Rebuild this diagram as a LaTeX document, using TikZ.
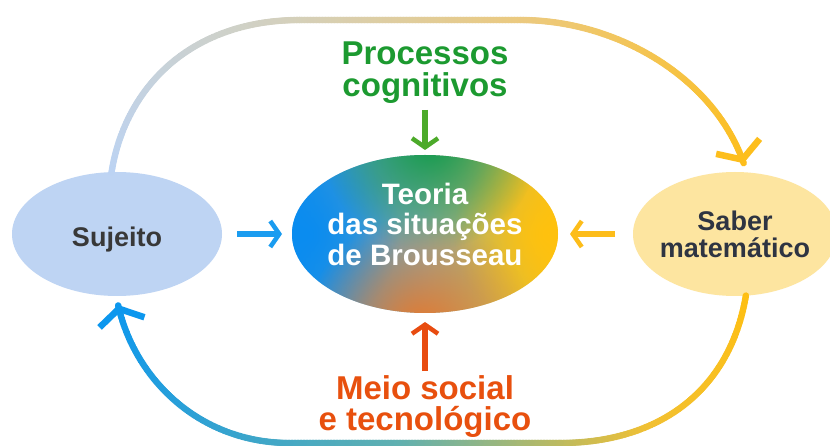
\documentclass[tikz,border=0pt]{standalone}
\usepackage{fontspec}
\setmainfont{Liberation Sans}
\usetikzlibrary{shapes.geometric,arrows.meta,fadings,calc,decorations.markings}
\definecolor{sjfill}{HTML}{BED4F3}
\definecolor{safill}{HTML}{FDE5A0}
\definecolor{sjtext}{HTML}{383838}
\definecolor{satext}{HTML}{2E3442}
\definecolor{procgreen}{HTML}{1C9A30}
\definecolor{meiored}{HTML}{E8500E}
\definecolor{arrgreen}{HTML}{4CAA2A}
\definecolor{arrred}{HTML}{E84C10}
\definecolor{arrblue}{HTML}{1A9CF0}
\definecolor{arryellow}{HTML}{FDBD1A}
\definecolor{looplblue}{HTML}{BCD3F3}
\definecolor{looptan}{HTML}{D4D0BC}
\definecolor{loopwarm}{HTML}{EDC97A}
\definecolor{loopyellow}{HTML}{FDBE1C}
\definecolor{botyellow}{HTML}{FEBF12}
\definecolor{botwarm}{HTML}{F2C032}
\definecolor{botteal}{HTML}{60B0B0}
\definecolor{botblue}{HTML}{0C97EE}
\definecolor{cblue}{HTML}{0A8CF0}
\definecolor{cyellow}{HTML}{FFC20E}
\definecolor{cgray}{HTML}{88AAA8}
\definecolor{cgreen}{HTML}{0E9A48}
\definecolor{corange}{HTML}{E8782A}

\tikzfading[name=blob, inner color=transparent!0, outer color=transparent!100]

\tikzset{
  gradtube/.style n args={6}{
    decoration={markings, mark=between positions 0 and 1 step 1.5pt with {%
      \pgfmathsetmacro\pp{\pgfkeysvalueof{/pgf/decoration/mark info/distance from start}/\pgfdecoratedpathlength*100}%
      \ifdim\pp pt<#5pt
        \pgfmathtruncatemacro\qq{100*\pp/#5}\colorlet{tubecur}{#2!\qq!#1}%
      \else\ifdim\pp pt<#6pt
        \pgfmathtruncatemacro\qq{100*(\pp-#5)/(#6-#5)}\colorlet{tubecur}{#3!\qq!#2}%
      \else
        \pgfmathtruncatemacro\qq{min(100,100*(\pp-#6)/(100-#6))}\colorlet{tubecur}{#4!\qq!#3}%
      \fi\fi
      \fill[tubecur] (0,0) circle[radius=3.3pt];}},
    decorate}
}

\begin{document}
\begin{tikzpicture}[x=1pt,y=-1pt,
  lbl/.style={align=center, inner sep=0pt, outer sep=0pt},
  oval/.style={ellipse, inner sep=0pt, outer sep=0pt},
  looptip/.style={line width=6.5pt, -{Straight Barb[length=14pt,width=46pt]}},
  smallarrow/.style={line width=6.5pt, -{Straight Barb[length=9pt,width=26pt,line width=4.5pt]}},
]
\useasboundingbox (0,0) rectangle (830,446);
\fill[white] (0,0) rectangle (830,446);

% side ovals
\node[oval, fill=sjfill, minimum width=210pt, minimum height=124pt, text=sjtext,
      font=\bfseries\fontsize{27}{27}\selectfont, text height=26pt, text depth=0pt] (sj) at (117,234) {Sujeito};
\node[oval, fill=safill, minimum width=204pt, minimum height=124pt, text=satext, align=center,
      inner xsep=-5pt, font=\bfseries\fontsize{27}{27}\selectfont] (sa) at (735,234) {Saber\\matemático};

% central oval
\node[oval, minimum width=266pt, minimum height=158pt] (teoria) at (425,234) {};
\begin{scope}
  \clip (teoria.center) ellipse [x radius=133pt, y radius=79pt];
  \shade[left color=cblue, right color=cyellow, middle color=cgray] (290,150) rectangle (560,316);
  \fill[cblue, path fading=blob] (305,234) circle[radius=95pt];
  \fill[cyellow, path fading=blob] (548,234) circle[radius=95pt];
  \fill[cgreen, path fading=blob] (430,140) circle[radius=110pt];
  \fill[corange, path fading=blob] (420,330) circle[radius=115pt];
\end{scope}
\node[lbl, text=white, font=\bfseries\fontsize{29.5}{30.5}\selectfont] (teoriatxt) at (425,224) {Teoria\\das situações\\de Brousseau};

% outer labels
\node[lbl, text=procgreen, font=\bfseries\fontsize{33}{32}\selectfont] (proc) at (425,73) {Processos\\cognitivos};
\node[lbl, text=meiored, font=\bfseries\fontsize{33}{31}\selectfont] (meio) at (425,407) {Meio social\\e tecnológico};

% loop ends (arrow tips)
\coordinate (topend) at ($(sa.82)+(0,-9)$);
\coordinate (botend) at ($(sj.-89)+(0,9)$);

% top loop: Sujeito -> Saber
\path[gradtube={looplblue}{looptan}{loopwarm}{loopyellow}{33}{66}]
  (sj.95) .. controls (125,88) and (190,20) .. (300,20) -- (520,20) .. controls (620,20) and (715,80) .. (topend);
\draw[looptip, loopyellow] ($(topend)!5pt!(715,80)$) -- (topend);

% bottom loop: Saber -> Sujeito
\path[gradtube={botyellow}{botwarm}{botteal}{botblue}{22}{55}]
  (sa.-80) .. controls (730,390) and (660,443) .. (560,443) -- (290,443) .. controls (200,443) and (135,380) .. (botend);
\draw[looptip, botblue] ($(botend)!5pt!(135,380)$) -- (botend);

% small arrows
\draw[smallarrow, arrblue, shorten <=15pt, shorten >=10pt] (sj) -- (teoria);
\draw[smallarrow, arryellow, shorten <=18pt, shorten >=12pt] (sa) -- (teoria);
\draw[smallarrow, arrgreen, shorten <=6pt, shorten >=5pt] (proc.south) -- (teoria.north);
\draw[smallarrow, arrred, shorten <=5pt, shorten >=9pt] (meio.north) -- (teoria.south);
\end{tikzpicture}
\end{document}
